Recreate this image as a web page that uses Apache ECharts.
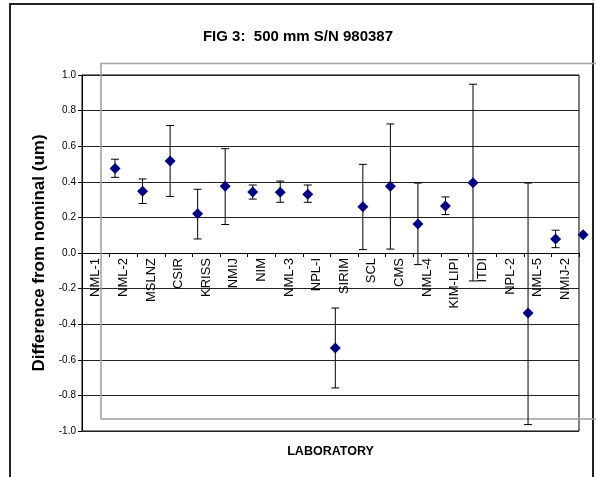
<!DOCTYPE html>
<html>
<head>
<meta charset="utf-8">
<script src="https://cdn.jsdelivr.net/npm/echarts@6/dist/echarts.min.js"></script>
<style>
  html, body { margin: 0; padding: 0; background: #fff; }
  #box { width: 596px; height: 477px; }
</style>
</head>
<body>
<div id="box"></div>
<script>
// laboratory names along the axis
var categories = ['NML-1', 'NML-2', 'MSLNZ', 'CSIR', 'KRISS', 'NMIJ', 'NIM', 'NML-3', 'NPL-I',
  'SIRIM', 'SCL', 'CMS', 'NML-4', 'KIM-LIPI', 'ITDI', 'NPL-2', 'NML-5', 'NMIJ-2'];

// plotted points, position = array index (the points sit one slot off the labels, as in the original)
var values = [null, 0.475, 0.347, 0.517, 0.221, 0.375, 0.343, 0.341, 0.33,
  -0.534, 0.26, 0.375, 0.163, 0.264, 0.395, null, -0.337, 0.079, 0.103];
var upper = [null, 0.527, 0.416, 0.716, 0.358, 0.586, 0.382, 0.404, 0.382,
  -0.309, 0.498, 0.725, 0.393, 0.315, 0.948, null, 0.393, 0.128, null];
var lower = [null, 0.425, 0.278, 0.318, 0.079, 0.16, 0.303, 0.285, 0.285,
  -0.758, 0.019, 0.022, -0.065, 0.216, -0.157, null, -0.964, 0.03, null];

var yTicks = [-1, 1, 0.2];

var FONT = 'Liberation Sans, Arial, sans-serif';

var points = [];
var bars = [];
values.forEach(function (v, i) {
  if (v !== null) points.push([i, v]);
  if (upper[i] !== null) bars.push([i, lower[i], upper[i]]);
});

var GRID_TOP = 75, GRID_BOTTOM = 46, H = 477;

var dom = echarts.init(document.getElementById('box'));

var option = {
  backgroundColor: '#fff',
  animation: false,
  title: {
    text: 'FIG 3:  500 mm S/N 980387',
    left: 'center',
    top: 24,
    textStyle: { fontFamily: FONT, fontSize: 15, fontWeight: 'bold', color: '#000' }
  },
  grid: {
    left: 82,
    right: 17,
    top: GRID_TOP,
    bottom: GRID_BOTTOM,
    outerBoundsMode: 'none',
    containLabel: false,
    show: true,
    borderColor: '#000',
    borderWidth: 1
  },
  graphic: [
    {
      type: 'rect',
      z: 0,
      silent: true,
      shape: { x: 10, y: 4, width: 583, height: 500 },
      style: { fill: 'none', stroke: '#222', lineWidth: 2 }
    },
    {
      type: 'rect',
      z: 1,
      silent: true,
      shape: { x: 101, y: 63.5, width: 600, height: 355.5 },
      style: { fill: 'none', stroke: '#a0a0a0', lineWidth: 1.5 }
    }
  ],
  xAxis: [
    {
      type: 'category',
      data: categories,
      boundaryGap: true,
      // the axis crosses at y = 0, i.e. halfway up the plot
      offset: -(H - GRID_TOP - GRID_BOTTOM) / 2,
      axisLine: { onZero: false, lineStyle: { color: '#000', width: 1 } },
      axisTick: { show: true, interval: 0, length: 4, lineStyle: { color: '#000' } },
      axisLabel: {
        interval: 0,
        rotate: 90,
        margin: 5,
        fontFamily: FONT,
        fontSize: 13,
        color: '#000'
      },
      splitLine: { show: false }
    },
    {
      type: 'value',
      min: -0.2,
      max: 17.85,
      position: 'bottom',
      name: 'LABORATORY',
      nameLocation: 'middle',
      nameGap: 14,
      nameTextStyle: { fontFamily: FONT, fontSize: 12.5, fontWeight: 'bold', color: '#000' },
      axisLine: { show: false, onZero: false },
      axisTick: { show: false },
      axisLabel: { show: false },
      splitLine: { show: false }
    }
  ],
  yAxis: {
    type: 'value',
    min: yTicks[0],
    max: yTicks[1],
    interval: yTicks[2],
    name: 'Difference from nominal (um)',
    nameLocation: 'middle',
    nameGap: 32,
    nameTextStyle: { fontFamily: FONT, fontSize: 17, fontWeight: 'bold', color: '#000' },
    axisLine: { show: true, onZero: false, lineStyle: { color: '#000' } },
    axisTick: { show: true, length: 4, lineStyle: { color: '#000' } },
    axisLabel: {
      margin: 6,
      fontFamily: FONT,
      fontSize: 10,
      color: '#000',
      formatter: function (v) { return v.toFixed(1); }
    },
    splitLine: { show: true, lineStyle: { color: '#222', width: 1 } }
  },
  series: [
    {
      type: 'custom',
      xAxisIndex: 1,
      clip: false,
      z: 3,
      data: bars,
      encode: { x: 0, y: [1, 2] },
      renderItem: function (params, api) {
        var x = api.value(0);
        var lo = api.coord([x, api.value(1)]);
        var hi = api.coord([x, api.value(2)]);
        var cap = 4;
        var style = { stroke: '#000', lineWidth: 1 };
        return {
          type: 'group',
          children: [
            { type: 'line', shape: { x1: hi[0], y1: hi[1], x2: lo[0], y2: lo[1] }, style: style },
            { type: 'line', shape: { x1: hi[0] - cap, y1: hi[1], x2: hi[0] + cap, y2: hi[1] }, style: style },
            { type: 'line', shape: { x1: lo[0] - cap, y1: lo[1], x2: lo[0] + cap, y2: lo[1] }, style: style }
          ]
        };
      }
    },
    {
      type: 'scatter',
      xAxisIndex: 1,
      clip: false,
      z: 4,
      symbol: 'diamond',
      symbolSize: [11, 11],
      itemStyle: { color: '#000080', opacity: 1 },
      data: points
    }
  ]
};

dom.setOption(option);
</script>
</body>
</html>
